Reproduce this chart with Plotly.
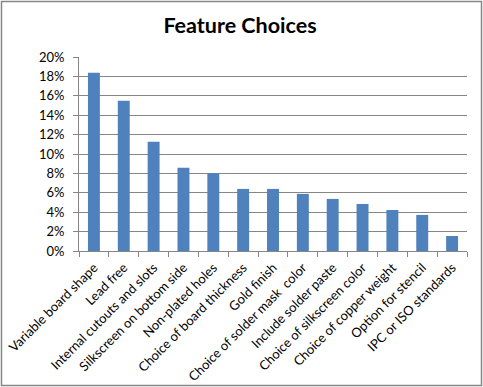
import plotly.graph_objects as go

categories = ["Variable board shape", "Lead free", "Internal cutouts and slots",
              "Silkscreen on bottom side", "Non-plated holes", "Choice of board thickness",
              "Gold finish", "Choice of solder mask  color", "Include solder paste",
              "Choice of silkscreen color", "Choice of copper weight", "Option for stencil",
              "IPC or ISO standards"]
values = [0.1838, 0.1549, 0.1126, 0.0857, 0.0802, 0.0640, 0.0640, 0.0589,
          0.0537, 0.0485, 0.0423, 0.0372, 0.0155]
y_ticks = [i / 100 for i in range(0, 21, 2)]

W, H = 483, 387
L, R, T, B = 79, 16, 57, 136

fig = go.Figure(go.Bar(x=categories, y=values, width=0.4,
                       marker=dict(color="#4F81BD", line=dict(width=0))))

fig.update_layout(
    width=W, height=H,
    margin=dict(l=L, r=R, t=T, b=B, pad=0),
    paper_bgcolor="white", plot_bgcolor="white",
    showlegend=False,
    title=dict(text="<b>Feature Choices</b>", x=240 / W, xanchor="center",
               y=1 - 25 / H, yanchor="middle",
               font=dict(family="Lato", size=21.5, color="black")),
    font=dict(family="Lato", size=13, color="black"),
    bargap=0.6,
)
fig.update_yaxes(range=[0, 0.20], tickvals=y_ticks, tickformat=".0%",
                 showgrid=True, gridcolor="#868686", gridwidth=1,
                 showline=True, linecolor="#868686", linewidth=1,
                 ticks="outside", ticklen=5, tickcolor="#868686",
                 ticklabelstandoff=6, zeroline=False, automargin=False,
                 tickfont=dict(family="Lato", size=13))
fig.update_xaxes(showline=True, linecolor="#868686", linewidth=1,
                 ticks="outside", ticklen=5, tickcolor="#868686",
                 tickson="boundaries", tickangle=-45, automargin=False,
                 ticklabelstandoff=3,
                 tickfont=dict(family="Lato", size=13), showgrid=False)

# outer chart border
fig.add_shape(type="rect", xref="paper", yref="paper",
              x0=(1.5 - L) / (W - L - R), x1=(481.5 - L) / (W - L - R),
              y0=(H - B - 385.5) / (H - T - B), y1=(H - B - 1.5) / (H - T - B),
              line=dict(color="#868686", width=1.5), fillcolor="rgba(0,0,0,0)", layer="below")

fig.write_html("out.html", config={"displayModeBar": False},
               post_script="document.body.style.margin='0';document.body.style.overflow='hidden';")
